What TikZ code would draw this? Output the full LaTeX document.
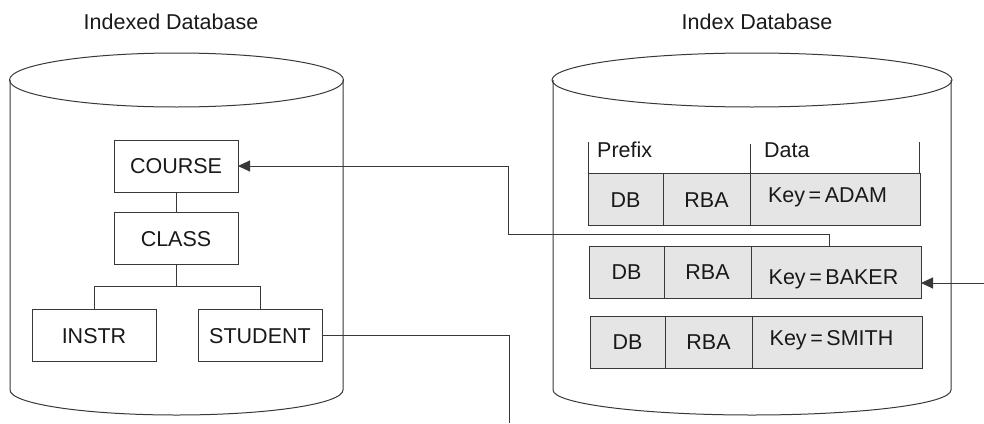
\documentclass[tikz,border=0pt]{standalone}
\usepackage{fontspec}
\setmainfont{Liberation Sans}
\usetikzlibrary{arrows.meta}
\begin{document}
\begin{tikzpicture}[x=1pt,y=-1pt,
  every node/.style={font=\fontsize{21.5}{25}\selectfont, text=black!90},
  ln/.style={draw=black!78, line width=1pt},
  arr/.style={ln, -{Triangle[length=12pt,width=11pt]}},
  txt/.style={inner sep=0pt, text height=15.3pt, text depth=0pt},
  box/.style={ln, rectangle, inner sep=0pt, outer sep=0pt, minimum width=124pt, minimum height=52pt, text height=15.3pt, text depth=0pt},
  cell/.style={ln, fill=black!10, rectangle, inner sep=0pt, outer sep=0pt, minimum height=52pt, text height=15.3pt, text depth=0pt},
  dbc/.style={cell, minimum width=75pt},
  rbac/.style={cell, minimum width=87pt},
  keyc/.style={cell, minimum width=170pt}
]
\useasboundingbox (0,0) rectangle (984,423);

% titles
\node[txt] (t1) at (171,22) {Indexed Database};
\node[txt] (t2) at (757,22) {Index Database};

% left cylinder
\draw[ln] (176.5,80) ellipse [x radius=167, y radius=27];
\draw[ln] (10,80) -- (10,390) arc[start angle=180, end angle=0, x radius=166.5, y radius=25] -- (343,80);

% right cylinder
\draw[ln] (752,80) ellipse [x radius=200, y radius=27];
\draw[ln] (553,80) -- (553,390) arc[start angle=180, end angle=0, x radius=199, y radius=25] -- (951,80);

% hierarchy
\node[box] (course) at (176,166) {COURSE};
\node[box] (class) at (176,238.5) {CLASS};
\node[box] (instr) at (94,335.5) {INSTR};
\node[box] (student) at (260,335.5) {STUDENT};
\coordinate (junc) at (176,286);
\draw[ln] (course.south) -- (class.north);
\draw[ln] (class.south) -- (junc);
\draw[ln] (junc) -| (instr.north);
\draw[ln] (junc) -| (student.north);

% index header
\node[txt, anchor=west] (prefix) at (597,150) {Prefix};
\node[txt, anchor=west] (data) at (764,150) {Data};
\draw[ln] (588,142) -- (588,195);
\draw[ln] (750,144) -- (750,173);
\draw[ln] (919,142) -- (919,195);

% rows
\node[dbc] (adb) at (625.5,199.5) {DB};
\node[rbac] (arba) at (706.5,199.5) {RBA};
\node[keyc] (akey) at (835,199.5) {};
\node[txt] (aktxt) at (827.5,195) {Key\,=\,ADAM};

\node[dbc] (bdb) at (626.5,272) {DB};
\node[rbac] (brba) at (707.5,272) {RBA};
\node[keyc] (bkey) at (836,272) {};
\node[txt] (bktxt) at (833.5,277) {Key\,=\,BAKER};

\node[dbc] (sdb) at (627.5,342) {DB};
\node[rbac] (srba) at (708.5,342) {RBA};
\node[keyc] (skey) at (837,342) {};
\node[txt] (sktxt) at (831.5,338) {Key\,=\,SMITH};

% connectors
\coordinate (bend1) at (508,234);
\draw[arr] ([xshift=-7pt]bkey.north) |- (bend1) |- (course.east);
\coordinate (rin) at (984,283);
\draw[arr] (rin) -- (bkey.east |- rin);
\coordinate (sout) at (509,423);
\draw[ln] (student.east) -| (sout);
\end{tikzpicture}
\end{document}
